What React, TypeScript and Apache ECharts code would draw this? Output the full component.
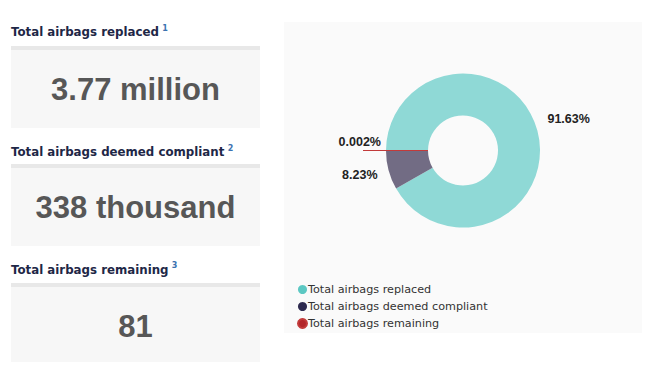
import React, { useEffect, useRef } from "react";
import * as echarts from "echarts";

const categories = ["Total airbags replaced", "Total airbags deemed compliant", "Total airbags remaining"];
const footnotes = ["1", "2", "3"];
const displayValues = ["3.77 million", "338 thousand", "81"];
const percentValues = [91.63, 8.23, 0.002];
const percentLabels = ["91.63%", "8.23%", "0.002%"];
const sliceColors = ["#8fd9d6", "#726c84", "#c23a3a"];
const legendColors = ["#5cc8c3", "#2e2a4f", "#b3262a"];

const FONT = "'DejaVu Sans', sans-serif";
const FONT2 = "'Liberation Sans', Arial, sans-serif";

export default function App() {
  const ref = useRef<HTMLDivElement>(null);
  useEffect(() => {
    if (!ref.current) return;
    const chart = echarts.init(ref.current, null, { renderer: "svg" });

    const graphics: any[] = [
      {
        type: "rect",
        shape: { x: 284, y: 22, width: 358, height: 311 },
        style: { fill: "#fafafa" },
        z: -10,
      },
    ];
    const titleY = [32, 152, 269.5];
    const stripY = [46, 164, 283];
    const boxBottom = [128, 246, 362];
    const valueY = [89, 207.5, 326];
    categories.forEach((c, i) => {
      graphics.push({
        type: "text",
        x: 11,
        y: titleY[i],
        style: {
          text: `{t|${c}} {s|${footnotes[i]}}`,
          verticalAlign: "middle",
          align: "left",
          rich: {
            t: { font: `bold 11.8px ${FONT}`, fill: "#1e2747", color: "#1e2747" },
            s: {
              font: `bold 8px ${FONT}`,
              fill: "#3b72b0",
              color: "#3b72b0",
              padding: [0, 0, 8, 0],
            },
          },
        },
        z: 5,
      });
      graphics.push({
        type: "rect",
        shape: { x: 11, y: stripY[i], width: 249, height: 4 },
        style: { fill: "#e8e8e8" },
      });
      graphics.push({
        type: "rect",
        shape: { x: 11, y: stripY[i] + 4, width: 249, height: boxBottom[i] - stripY[i] - 4 },
        style: { fill: "#f7f7f7" },
      });
      graphics.push({
        type: "text",
        x: 135.5,
        y: valueY[i],
        style: {
          text: displayValues[i],
          font: `bold 31px ${FONT2}`,
          fill: "#575757",
          align: "center",
          verticalAlign: "middle",
        },
        z: 5,
      });
    });

    const option: any = {
      animation: false,
      backgroundColor: "#ffffff",
      graphic: graphics,
      legend: {
        orient: "vertical",
        left: 292,
        top: 279,
        itemWidth: 9,
        itemHeight: 9,
        itemGap: 6,
        icon: "circle",
        textStyle: { fontFamily: FONT, fontSize: 11.2, color: "#333", padding: [0, 0, 0, -4] },
        data: categories.map((c, i) => ({ name: c, itemStyle: { color: legendColors[i] } })),
      },
      series: [
        {
          type: "pie",
          center: [463, 150.5],
          radius: [35, 77],
          startAngle: 180,
          clockwise: true,
          avoidLabelOverlap: false,
          label: {
            show: true,
            position: "outside",
            fontFamily: FONT2,
            fontWeight: "bold",
            fontSize: 12.5,
            color: "#222",
            formatter: (p: any) => percentLabels[p.dataIndex],
          },
          labelLine: { show: false, length: 0, length2: 0 },
          labelLayout: (p: any) => {
            const adj = [
              { dx: 5, dy: -12 },
              { dx: -6, dy: 5 },
              { dx: 23, dy: -9 },
            ];
            return adj[p.dataIndex];
          },
          data: categories.map((c, i) => ({
            name: c,
            value: percentValues[i],
            itemStyle:
              i === 2
                ? { color: sliceColors[i], borderColor: sliceColors[i], borderWidth: 1 }
                : { color: sliceColors[i], borderWidth: 0 },
            labelLine:
              i === 2
                ? { show: true, length: 15, length2: 8, lineStyle: { color: sliceColors[i], width: 1 } }
                : undefined,
          })),
        },
      ],
    };
    chart.setOption(option);
    return () => chart.dispose();
  }, []);
  return (
    <div
      ref={ref}
      style={{ position: "fixed", left: 0, top: 0, width: 650, height: 366 }}
    />
  );
}
